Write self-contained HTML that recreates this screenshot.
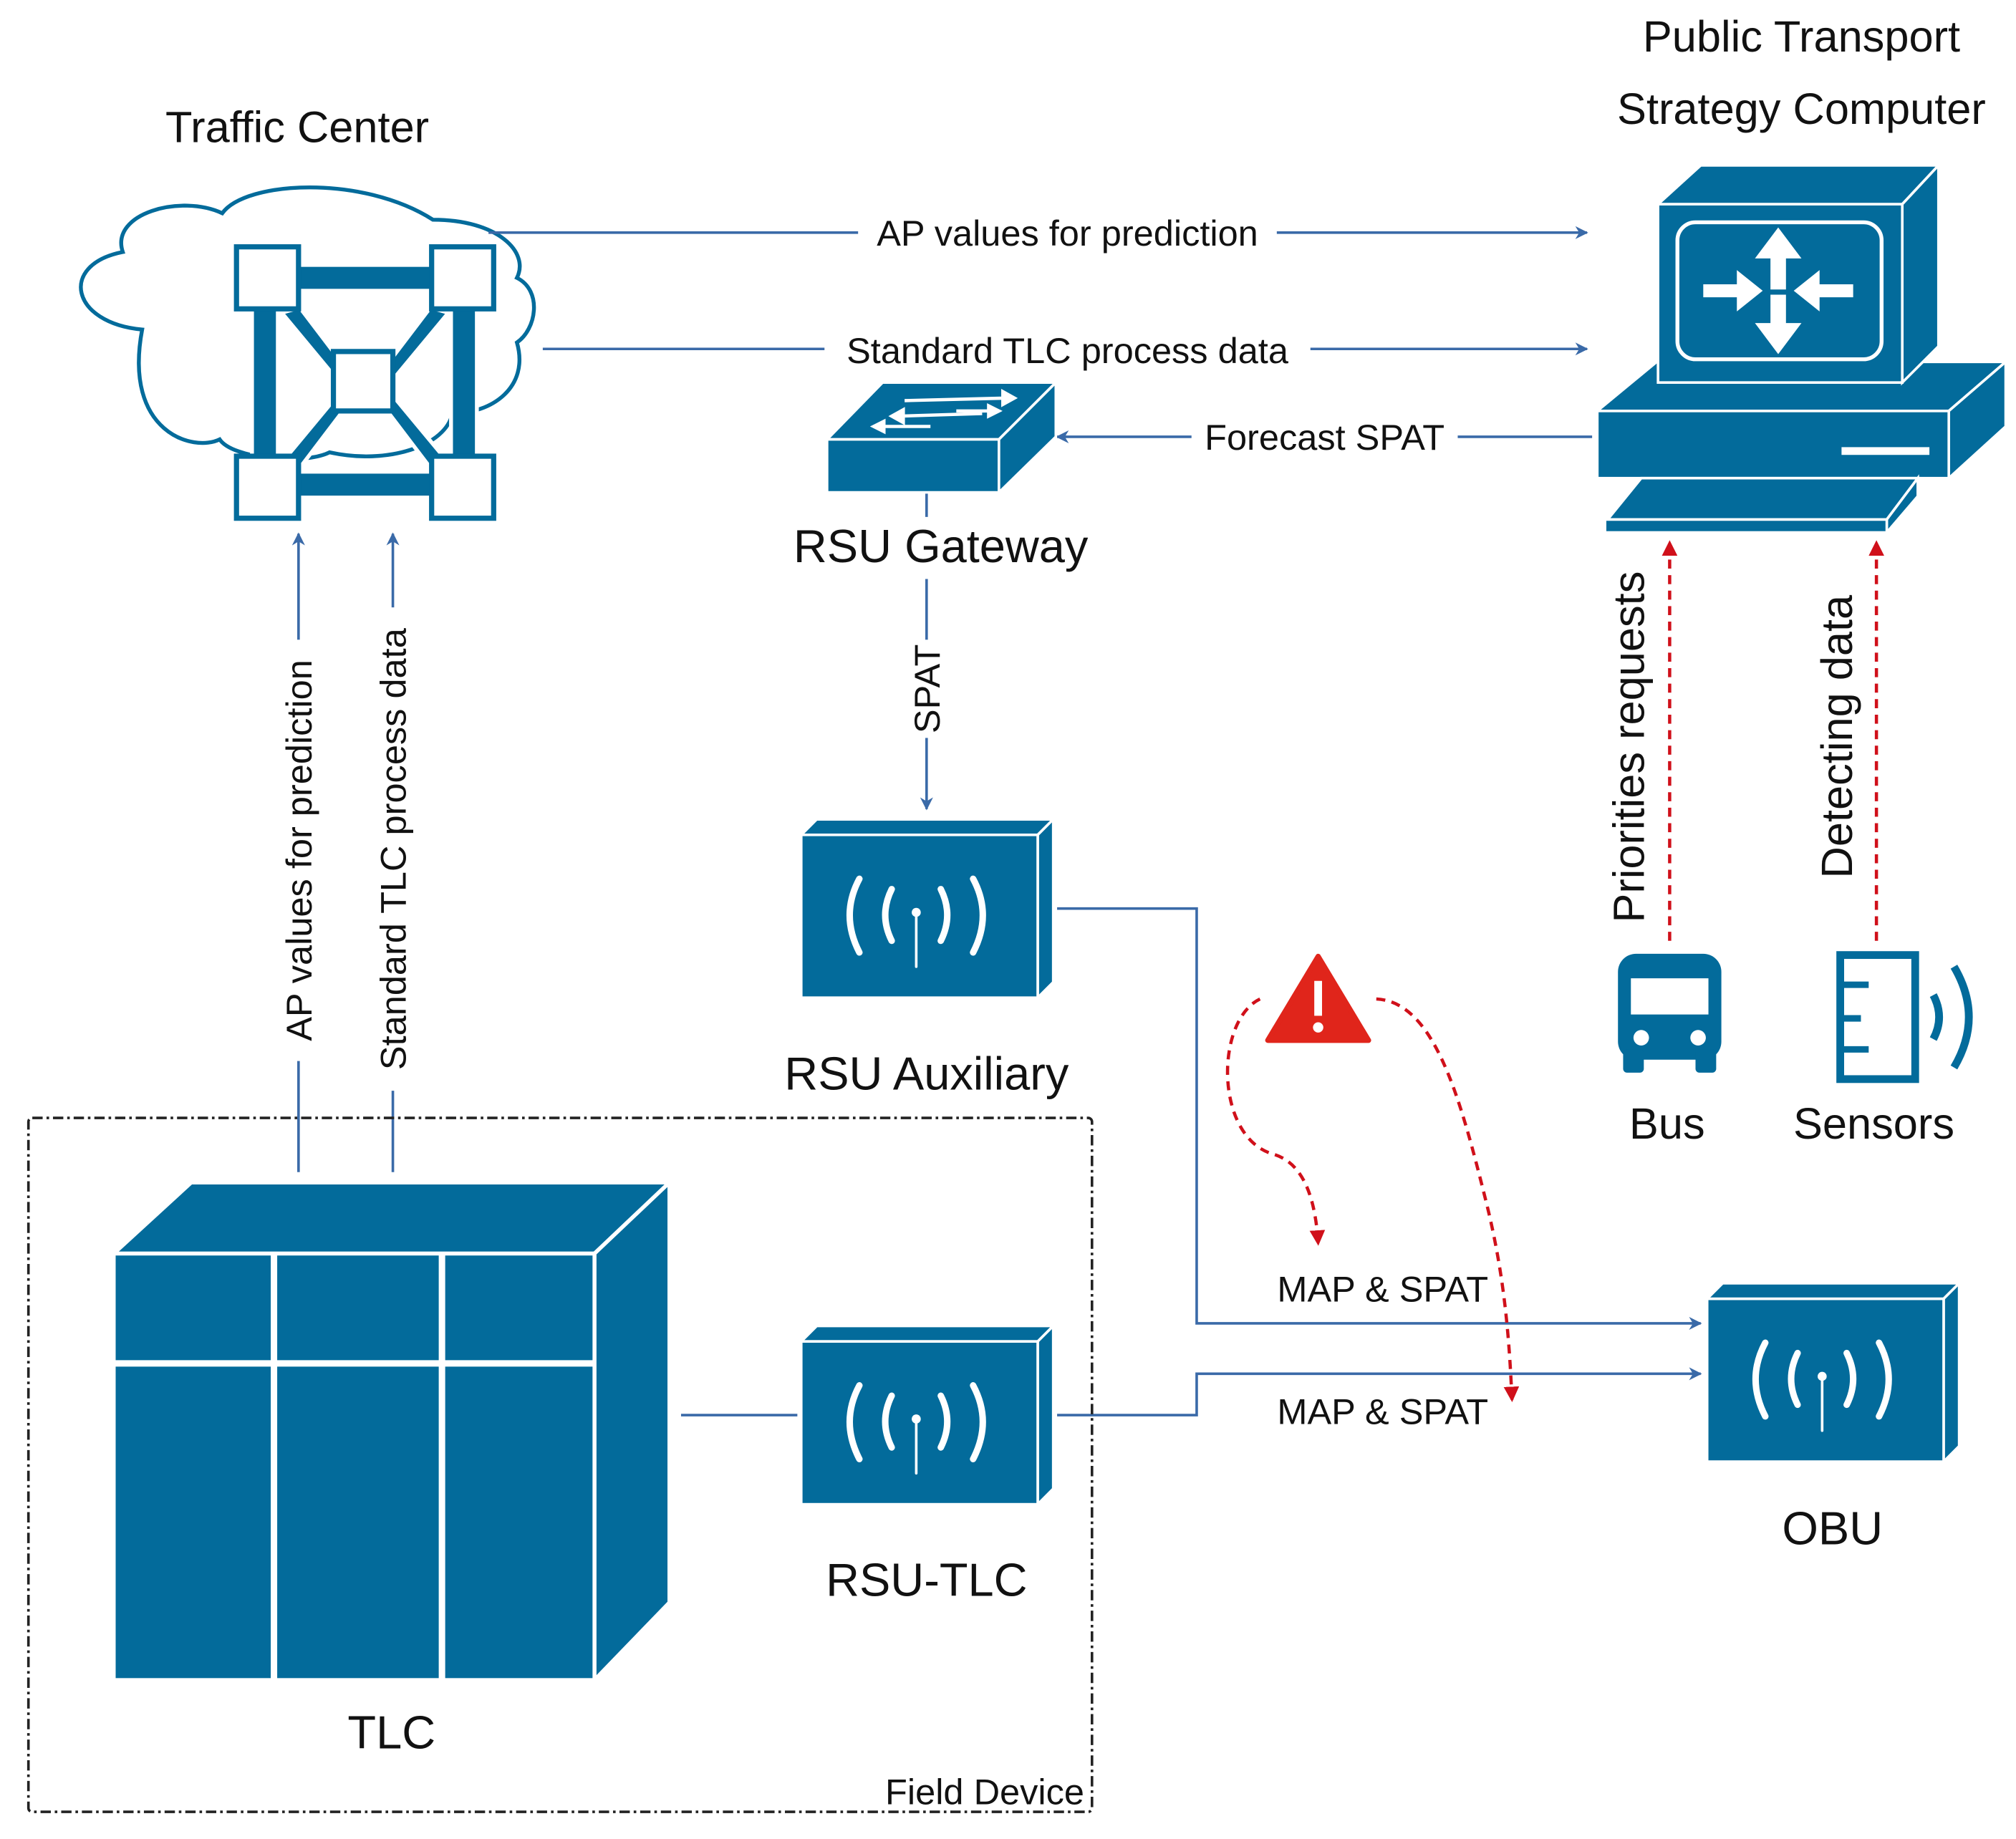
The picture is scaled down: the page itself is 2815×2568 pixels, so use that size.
<!DOCTYPE html>
<html><head><meta charset="utf-8">
<style>
html,body{margin:0;padding:0;background:#fff;}
svg{display:block;}
text{font-family:"Liberation Sans",sans-serif;fill:#111;}
</style></head>
<body>
<svg width="2815" height="2568" viewBox="0 0 1560 1423" xmlns="http://www.w3.org/2000/svg" preserveAspectRatio="none">
<defs>
<marker id="ab" markerWidth="10" markerHeight="10" refX="9" refY="5" orient="auto" markerUnits="userSpaceOnUse"><path d="M0,0 L10,5 L0,10 L3,5 z" fill="#3a6aa8"/></marker>
<marker id="ar" markerWidth="12" markerHeight="12" refX="10" refY="6" orient="auto" markerUnits="userSpaceOnUse"><path d="M0,0 L12,6 L0,12 z" fill="#d0101a"/></marker>
</defs>
<rect width="1560" height="1423" fill="#fff"/>

<text x="230" y="110" font-size="34" text-anchor="middle">Traffic Center</text>
<path d="M110,255 C55,250 45,205 95,195 C85,165 140,150 172,165 C190,140 280,135 335,170 C385,170 410,195 400,215 C420,225 415,255 400,265 C410,300 380,320 350,320 C345,345 300,360 255,350 C235,360 180,355 170,340 C150,350 95,335 110,255 z" fill="#fff" stroke="#036b9b" stroke-width="3"/>
<g fill="#036b9b" stroke="#fff" stroke-width="3">
<rect x="222" y="205" width="120" height="20"/>
<rect x="222" y="365" width="120" height="20"/>
<rect x="195" y="235" width="20" height="130"/>
<rect x="349" y="235" width="20" height="130"/>
<polygon points="218,242 262,295 270,288 232,238"/>
<polygon points="347,242 303,295 295,288 333,238"/>
<polygon points="218,358 262,305 270,312 232,362"/>
<polygon points="347,358 303,305 295,312 333,362"/>
</g>
<g fill="#fff" stroke="#036b9b" stroke-width="4">
<rect x="183" y="191" width="48" height="48"/>
<rect x="334" y="191" width="48" height="48"/>
<rect x="183" y="353" width="48" height="48"/>
<rect x="334" y="353" width="48" height="48"/>
<rect x="258" y="272" width="46" height="46"/>
</g>

<g stroke="#3a6aa8" stroke-width="2" fill="none">
<line x1="378" y1="180" x2="1228" y2="180" marker-end="url(#ab)"/>
<line x1="420" y1="270" x2="1228" y2="270" marker-end="url(#ab)"/>
<line x1="1232" y1="338" x2="818" y2="338" marker-end="url(#ab)"/>
</g>
<g font-size="28" text-anchor="middle">
<rect x="664" y="162" width="324" height="36" fill="#fff"/>
<text x="826" y="190">AP values for prediction</text>
<rect x="638" y="252" width="376" height="36" fill="#fff"/>
<text x="826" y="281">Standard TLC process data</text>
<rect x="922" y="320" width="206" height="36" fill="#fff"/>
<text x="1025" y="348">Forecast SPAT</text>
</g>

<g fill="#036b9b" stroke="#fff" stroke-width="2">
<polygon points="640,340 683,296 817,296 773,340"/>
<rect x="640" y="340" width="133" height="41"/>
<polygon points="773,340 817,296 817,338 773,381"/>
</g>
<g stroke="#fff" stroke-width="2.5" fill="#fff">
<line x1="700" y1="310" x2="780" y2="308"/><polygon points="785,308 776,303 776,313"/>
<line x1="695" y1="322" x2="760" y2="320"/><polygon points="690,322 699,317 699,327"/>
<line x1="740" y1="318" x2="770" y2="318"/><polygon points="773,318 765,314 765,322"/>
<line x1="680" y1="330" x2="720" y2="330"/><polygon points="676,330 684,326 684,334"/>
</g>
<text x="728" y="435" font-size="36" text-anchor="middle">RSU Gateway</text>
<line x1="717" y1="382" x2="717" y2="400" stroke="#3a6aa8" stroke-width="2"/>
<line x1="717" y1="448" x2="717" y2="626" stroke="#3a6aa8" stroke-width="2" marker-end="url(#ab)"/>
<rect x="702" y="495" width="30" height="76" fill="#fff"/>
<text transform="translate(727,533) rotate(-90)" font-size="28" text-anchor="middle">SPAT</text>

<g id="radio">
<g fill="#036b9b" stroke="#fff" stroke-width="2">
<polygon points="620,646 632,634 815,634 803,646"/>
<polygon points="803,646 815,634 815,760 803,772"/>
<rect x="620" y="646" width="183" height="126"/>
</g>
<g stroke="#fff" stroke-width="5" fill="none" stroke-linecap="round">
<path d="M665,680 Q650,708 665,737"/>
<path d="M690,688 Q680,708 690,728"/>
<path d="M728,688 Q738,708 728,728"/>
<path d="M753,680 Q768,708 753,737"/>
<line x1="709" y1="708" x2="709" y2="748" stroke-width="2"/>
</g>
<circle cx="709" cy="706" r="3.5" fill="#fff"/>
</g>
<use href="#radio" transform="translate(0,392)"/>
<use href="#radio" transform="translate(701,359)"/>
<text x="717" y="843" font-size="36" text-anchor="middle">RSU Auxiliary</text>
<text x="717" y="1235" font-size="36" text-anchor="middle">RSU-TLC</text>
<text x="1418" y="1195" font-size="36" text-anchor="middle">OBU</text>

<g stroke="#3a6aa8" stroke-width="2" fill="none">
<polyline points="818,703 926,703 926,1024 1316,1024" marker-end="url(#ab)"/>
<polyline points="818,1095 926,1095 926,1063 1316,1063" marker-end="url(#ab)"/>
<line x1="527" y1="1095" x2="617" y2="1095"/>
<line x1="231" y1="907" x2="231" y2="413" marker-end="url(#ab)"/>
<line x1="304" y1="907" x2="304" y2="413" marker-end="url(#ab)"/>
</g>
<g font-size="28" text-anchor="middle">
<text x="1070" y="1007">MAP &amp; SPAT</text>
<text x="1070" y="1102">MAP &amp; SPAT</text>
</g>
<rect x="215" y="495" width="32" height="326" fill="#fff"/>
<text transform="translate(241,658) rotate(-90)" font-size="28" text-anchor="middle">AP values for prediction</text>
<rect x="288" y="470" width="32" height="374" fill="#fff"/>
<text transform="translate(314,657) rotate(-90)" font-size="28" text-anchor="middle">Standard TLC process data</text>

<rect x="22" y="865" width="823" height="537" fill="none" stroke="#222" stroke-width="2" stroke-dasharray="8,3,2,3" rx="3"/>
<text x="762" y="1396" font-size="28" text-anchor="middle">Field Device</text>

<g fill="#036b9b" stroke="#fff" stroke-width="3">
<polygon points="88,970 148,915 518,915 460,970"/>
<polygon points="460,970 518,915 518,1240 460,1300"/>
<rect x="88" y="970" width="372" height="330"/>
</g>
<g stroke="#fff" stroke-width="5">
<line x1="212" y1="970" x2="212" y2="1300"/>
<line x1="342" y1="970" x2="342" y2="1300"/>
<line x1="88" y1="1055" x2="460" y2="1055"/>
</g>
<text x="303" y="1353" font-size="36" text-anchor="middle">TLC</text>

<!-- Computer -->
<text x="1394" y="40" font-size="34" text-anchor="middle">Public Transport</text>
<text x="1394" y="96" font-size="34" text-anchor="middle">Strategy Computer</text>
<g fill="#036b9b" stroke="#fff" stroke-width="2">
<polygon points="1236,318 1282,280 1552,280 1508,318"/>
<polygon points="1508,318 1552,280 1552,330 1508,370"/>
<rect x="1236" y="318" width="272" height="52"/>
<polygon points="1244,402 1270,370 1484,370 1460,402"/>
<polygon points="1460,402 1484,370 1484,384 1460,412"/>
<rect x="1242" y="402" width="218" height="10"/>
<polygon points="1283,158 1316,128 1500,128 1472,158"/>
<polygon points="1472,158 1500,128 1500,268 1472,296"/>
<rect x="1283" y="158" width="189" height="138"/>
</g>
<rect x="1425" y="346" width="68" height="6" fill="#fff"/>
<rect x="1298" y="172" width="158" height="106" rx="14" fill="none" stroke="#fff" stroke-width="3"/>
<g fill="#fff">
<polygon points="1376,176 1358,200 1370,200 1370,224 1382,224 1382,200 1394,200"/>
<polygon points="1376,274 1358,250 1370,250 1370,228 1382,228 1382,250 1394,250"/>
<polygon points="1364,225 1344,209 1344,220 1318,220 1318,230 1344,230 1344,241"/>
<polygon points="1388,225 1408,209 1408,220 1434,220 1434,230 1408,230 1408,241"/>
</g>

<g stroke="#d0101a" stroke-width="2.5" fill="none" stroke-dasharray="7,5">
<line x1="1292" y1="728" x2="1292" y2="420" marker-end="url(#ar)"/>
<line x1="1452" y1="728" x2="1452" y2="420" marker-end="url(#ar)"/>
<path d="M975,773 C940,790 940,880 985,893 C1010,900 1018,930 1020,962" marker-end="url(#ar)"/>
<path d="M1065,773 C1110,775 1130,850 1150,930 C1165,990 1168,1040 1170,1083" marker-end="url(#ar)"/>
</g>
<text transform="translate(1272,578) rotate(-90)" font-size="34" text-anchor="middle">Priorities requests</text>
<text transform="translate(1433,570) rotate(-90)" font-size="34" text-anchor="middle">Detecting data</text>

<path d="M1020,740 L1059,805 L981,805 z" fill="#e0251b" stroke="#e0251b" stroke-width="4" stroke-linejoin="round"/>
<rect x="1017" y="759" width="6" height="27" fill="#fff"/>
<circle cx="1020" cy="795" r="4" fill="#fff"/>

<g fill="#036b9b">
<rect x="1252" y="738" width="80" height="82" rx="14"/>
<rect x="1256" y="812" width="16" height="18" rx="3"/>
<rect x="1312" y="812" width="16" height="18" rx="3"/>
</g>
<rect x="1262" y="757" width="60" height="28" fill="#fff"/>
<circle cx="1270" cy="803" r="6" fill="#fff"/>
<circle cx="1314" cy="803" r="6" fill="#fff"/>
<text x="1290" y="881" font-size="34" text-anchor="middle">Bus</text>

<rect x="1424" y="739" width="58" height="96" fill="none" stroke="#036b9b" stroke-width="6"/>
<g stroke="#036b9b" stroke-width="5">
<line x1="1424" y1="762" x2="1446" y2="762"/>
<line x1="1424" y1="788" x2="1440" y2="788"/>
<line x1="1424" y1="812" x2="1446" y2="812"/>
</g>
<g stroke="#036b9b" stroke-width="6" fill="none">
<path d="M1496,770 Q1505,787 1496,804"/>
<path d="M1512,748 Q1535,787 1512,826"/>
</g>
<text x="1450" y="881" font-size="34" text-anchor="middle">Sensors</text>
</svg>
</body></html>
